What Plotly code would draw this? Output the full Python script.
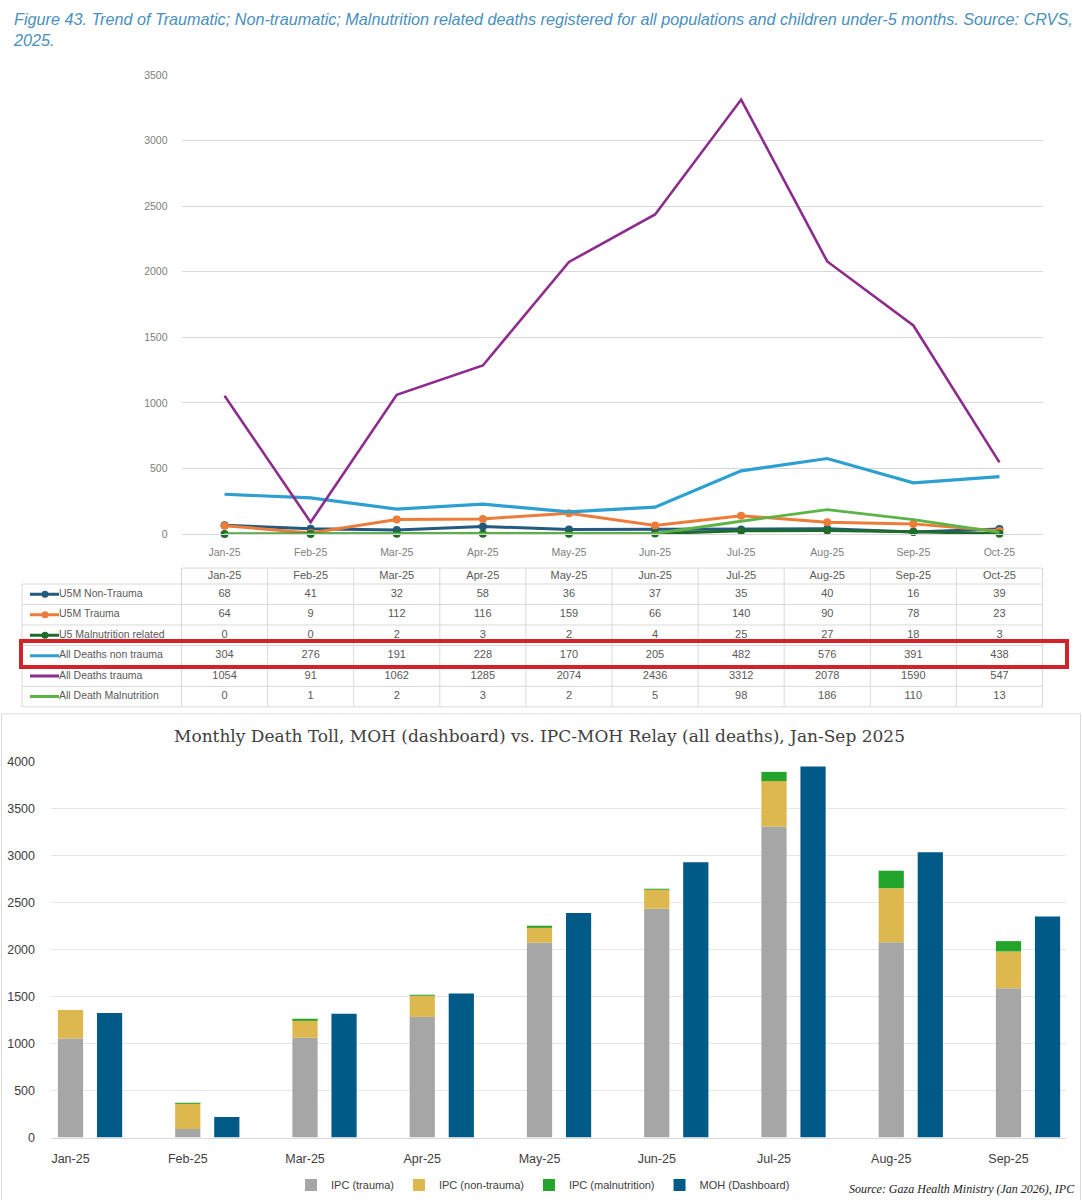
import plotly.graph_objects as go
import numpy as np

# ---------------- data ----------------
months10 = ["Jan-25", "Feb-25", "Mar-25", "Apr-25", "May-25", "Jun-25",
            "Jul-25", "Aug-25", "Sep-25", "Oct-25"]
u5m_non_trauma = [68, 41, 32, 58, 36, 37, 35, 40, 16, 39]
u5m_trauma = [64, 9, 112, 116, 159, 66, 140, 90, 78, 23]
u5_malnutrition = [0, 0, 2, 3, 2, 4, 25, 27, 18, 3]
all_non_trauma = [304, 276, 191, 228, 170, 205, 482, 576, 391, 438]
all_trauma = [1054, 91, 1062, 1285, 2074, 2436, 3312, 2078, 1590, 547]
all_malnutrition = [0, 1, 2, 3, 2, 5, 98, 186, 110, 13]

series_names = ["U5M Non-Trauma", "U5M Trauma", "U5 Malnutrition related",
                "All Deaths non trauma", "All Deaths trauma", "All Death Malnutrition"]
series_values = [u5m_non_trauma, u5m_trauma, u5_malnutrition,
                 all_non_trauma, all_trauma, all_malnutrition]
series_colors = ["#245a7e", "#ec7c3a", "#1e6b2c", "#2d9fd0", "#8d2c8d", "#5db446"]
series_markers = [True, True, True, False, False, False]
series_widths = [3, 3, 3, 3.2, 2.6, 2.8]

months9 = ["Jan-25", "Feb-25", "Mar-25", "Apr-25", "May-25", "Jun-25",
           "Jul-25", "Aug-25", "Sep-25"]
ipc_trauma = [1054, 91, 1062, 1285, 2074, 2436, 3312, 2078, 1590]
ipc_non_trauma = [304, 276, 191, 228, 170, 205, 482, 576, 391]
ipc_malnutrition = [0, 1, 2, 3, 2, 5, 98, 186, 110]
moh_dashboard = [1327, 219, 1317, 1533, 2389, 2931, 3950, 3037, 2354]

# ---------------- layout helpers ----------------
W, H = 1082, 1200
SANS = "Liberation Sans Narrow, Arial Narrow, Liberation Sans, Arial, sans-serif"

# the photographed page comes out slightly squeezed vertically; positions
# below are given in target-picture pixels and converted here
V_SCALE, V_OFF = 0.99, 5.0


def fx(px):
    return px / W


def fy(py):
    return 1 - ((py - V_OFF) / V_SCALE) / H


COL_L, COL_W = 181.5, 86.1  # first month column left edge, column width (px)
ROW_T, ROW_H = 583.0, 20.5  # first data row top, row height (px)


def tx(px):
    return (px - COL_L) / COL_W - 0.5


def ty(py):
    return (py - ROW_T) / ROW_H - 0.5


fig = go.Figure()

# ---------------- top line chart ----------------
for name, vals, col, mk, lw in zip(series_names, series_values, series_colors,
                                   series_markers, series_widths):
    fig.add_trace(go.Scatter(
        x=months10, y=vals, name=name,
        mode="lines+markers" if mk else "lines",
        line=dict(color=col, width=lw),
        marker=dict(size=8, color=col),
        xaxis="x", yaxis="y", showlegend=False, cliponaxis=False,
    ))

# ---------------- data table under the line chart ----------------
TXT = "#595959"
TFS = 11
fig.add_trace(go.Scatter(
    x=list(range(len(months10))), y=[ty(575)] * len(months10), mode="text",
    text=months10, textfont=dict(size=TFS, color=TXT, family=SANS),
    xaxis="x3", yaxis="y3", showlegend=False, hoverinfo="skip"))
for r, (name, vals, col, mk) in enumerate(zip(series_names, series_values,
                                              series_colors, series_markers)):
    fig.add_trace(go.Scatter(
        x=list(range(len(vals))), y=[r] * len(vals), mode="text",
        text=[str(v) for v in vals], textfont=dict(size=TFS, color=TXT, family=SANS),
        xaxis="x3", yaxis="y3", showlegend=False, hoverinfo="skip"))
    fig.add_trace(go.Scatter(
        x=[tx(59)], y=[r], mode="text", text=[name], textposition="middle right",
        textfont=dict(size=10.5, color=TXT, family=SANS),
        xaxis="x3", yaxis="y3", showlegend=False, hoverinfo="skip"))
    fig.add_trace(go.Scatter(
        x=[tx(30), tx(59)], y=[r, r], mode="lines",
        line=dict(color=col, width=3),
        xaxis="x3", yaxis="y3", showlegend=False, hoverinfo="skip"))
    if mk:
        fig.add_trace(go.Scatter(
            x=[tx(45)], y=[r], mode="markers", marker=dict(size=7, color=col),
            xaxis="x3", yaxis="y3", showlegend=False, hoverinfo="skip"))

GRID = "#d9d9d9"
shapes = []
n_rows = len(series_names)
n_cols = len(months10)
# horizontal borders
shapes.append(dict(type="line", xref="x3", yref="y3", x0=-0.5, x1=n_cols - 0.5,
                   y0=ty(567), y1=ty(567), line=dict(color=GRID, width=1)))
for k in range(n_rows + 1):
    yy = k - 0.5
    shapes.append(dict(type="line", xref="x3", yref="y3", x0=tx(22), x1=n_cols - 0.5,
                       y0=yy, y1=yy, line=dict(color=GRID, width=1)))
# vertical borders
shapes.append(dict(type="line", xref="x3", yref="y3", x0=tx(22), x1=tx(22),
                   y0=-0.5, y1=n_rows - 0.5, line=dict(color=GRID, width=1)))
for c in range(n_cols + 1):
    xx = c - 0.5
    shapes.append(dict(type="line", xref="x3", yref="y3", x0=xx, x1=xx,
                       y0=ty(567), y1=n_rows - 0.5, line=dict(color=GRID, width=1)))
# red highlight box
shapes.append(dict(type="rect", xref="paper", yref="paper",
                   x0=fx(21), x1=fx(1067), y0=fy(666), y1=fy(640),
                   line=dict(color="#d2232a", width=4), fillcolor="rgba(0,0,0,0)"))
# border of the lower chart panel
shapes.append(dict(type="rect", xref="paper", yref="paper",
                   x0=fx(1.5), x1=fx(1080.5), y0=-0.01, y1=fy(713),
                   line=dict(color="#dcdcdc", width=1), fillcolor="rgba(0,0,0,0)",
                   layer="below"))

# ---------------- bottom bar chart ----------------
idx = np.arange(len(months9))
GAP = 0.1665
BW = 0.215
ipc_x = idx - GAP
moh_x = idx + GAP
base_non = np.array(ipc_trauma)
base_mal = np.array(ipc_trauma) + np.array(ipc_non_trauma)

fig.add_trace(go.Bar(x=ipc_x, y=ipc_trauma, base=[0] * len(months9), width=BW,
                     name="IPC (trauma)", marker=dict(color="#a6a6a6", line=dict(width=0)),
                     xaxis="x2", yaxis="y2"))
fig.add_trace(go.Bar(x=ipc_x, y=ipc_non_trauma, base=base_non, width=BW,
                     name="IPC (non-trauma)", marker=dict(color="#dcb84e", line=dict(width=0)),
                     xaxis="x2", yaxis="y2"))
fig.add_trace(go.Bar(x=ipc_x, y=ipc_malnutrition, base=base_mal, width=BW,
                     name="IPC (malnutrition)", marker=dict(color="#23a52b", line=dict(width=0)),
                     xaxis="x2", yaxis="y2"))
fig.add_trace(go.Bar(x=moh_x, y=moh_dashboard, base=[0] * len(months9), width=BW,
                     name="MOH (Dashboard)", marker=dict(color="#005a87", line=dict(width=0)),
                     xaxis="x2", yaxis="y2"))

annotations = [
    dict(text="<i>Figure 43. Trend of Traumatic; Non-traumatic; Malnutrition related deaths "
              "registered for all populations and children under-5 months. Source: CRVS,"
              "<br>2025.</i>",
         xref="paper", yref="paper", x=fx(11), y=fy(6), xanchor="left", yanchor="top",
         align="left", showarrow=False,
         font=dict(family="Liberation Sans, Arial, sans-serif", size=16.2, color="#4a8fbd")),
    dict(text="Monthly Death Toll, MOH (dashboard) vs. IPC-MOH Relay (all deaths), Jan-Sep 2025",
         xref="paper", yref="paper", x=fx(539), y=fy(735), xanchor="center", yanchor="middle",
         showarrow=False, font=dict(family="DejaVu Serif, serif", size=17, color="#404040")),
    dict(text="<i>Source: Gaza Health Ministry (Jan 2026), IPC</i>",
         xref="paper", yref="paper", x=fx(1077), y=fy(1189), xanchor="right", yanchor="middle",
         showarrow=False, font=dict(family="Liberation Serif, serif", size=12, color="#222222")),
]

fig.update_layout(
    width=W, height=H,
    margin=dict(l=0, r=0, t=0, b=0),
    paper_bgcolor="white", plot_bgcolor="white",
    barmode="overlay",
    showlegend=True,
    legend=dict(orientation="h", x=fx(543), xanchor="center", y=fy(1185), yanchor="middle",
                font=dict(size=11, family=SANS, color="#404040"),
                itemwidth=30, bgcolor="rgba(0,0,0,0)", traceorder="normal"),
    shapes=shapes,
    annotations=annotations,
    # top line chart
    xaxis=dict(domain=[fx(181.5), fx(1042.5)], type="category", range=[-0.5, 9.5],
               showgrid=False, showline=True, linecolor=GRID, linewidth=1,
               ticks="", tickfont=dict(size=10.5, color="#808080", family=SANS),
               ticklabelstandoff=8, fixedrange=True),
    yaxis=dict(domain=[fy(533), fy(73)], range=[0, 3500], dtick=500,
               showgrid=True, gridcolor=GRID, gridwidth=1, zeroline=False,
               showline=False, tickfont=dict(size=10.5, color="#808080", family=SANS),
               ticklabelstandoff=13, fixedrange=True),
    # bottom bar chart
    xaxis2=dict(domain=[fx(51), fx(1066)], range=[-0.333, 8.324],
                tickvals=list(ipc_x), ticktext=months9,
                showgrid=False, zeroline=False, showline=True, linecolor="#d9d9d9",
                ticks="", tickfont=dict(size=12.5, color="#404040", family=SANS),
                ticklabelstandoff=9, fixedrange=True, anchor="y2"),
    yaxis2=dict(domain=[fy(1137.5), fy(761)], range=[0, 4000], dtick=500,
                showgrid=True, gridcolor="#e6e6e6", gridwidth=1, zeroline=False,
                tickfont=dict(size=12.5, color="#404040", family=SANS),
                ticklabelstandoff=15, fixedrange=True, anchor="x2"),
    # table helper axes
    xaxis3=dict(domain=[fx(14), fx(1068)], range=[tx(14), tx(1068)], visible=False,
                fixedrange=True, anchor="y3"),
    yaxis3=dict(domain=[fy(708), fy(562)], range=[ty(708), ty(562)], visible=False,
                fixedrange=True, anchor="x3"),
)

page_fix = (
    "var gd=document.getElementById('{plot_id}');"
    "document.documentElement.style.margin='0';"
    "document.documentElement.style.padding='0';"
    "document.documentElement.style.overflow='hidden';"
    "document.body.style.margin='0';"
    "document.body.style.padding='0';"
    "document.body.style.overflow='hidden';"
    "gd.style.position='absolute';gd.style.left='0px';gd.style.top='0px';"
)

fig.write_html("out.html", config={"displayModeBar": False}, post_script=page_fix)
